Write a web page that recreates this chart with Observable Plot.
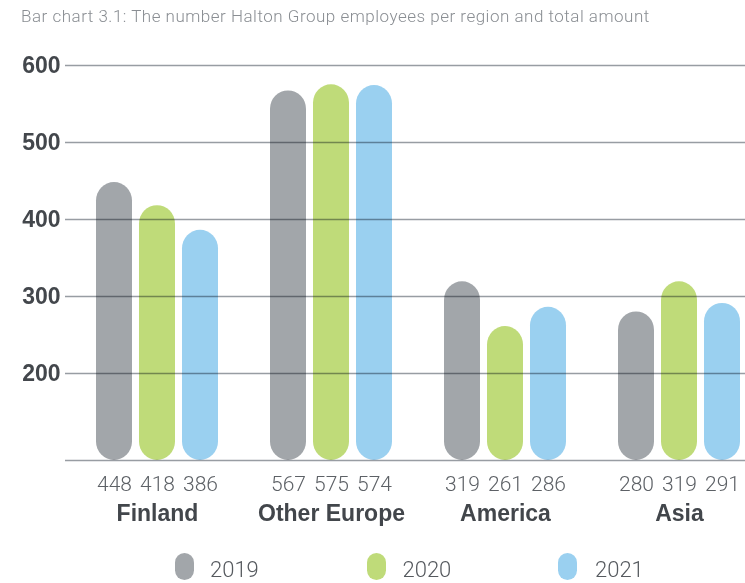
<!DOCTYPE html>
<html>
<head>
<meta charset="utf-8">
<script src="https://cdn.jsdelivr.net/npm/d3@7"></script>
<script src="https://cdn.jsdelivr.net/npm/@observablehq/plot@0.6"></script>
<style>
  html, body { margin: 0; padding: 0; background: #fff; overflow: hidden; }
  #wrap { position: relative; width: 745px; height: 583px; font-family: Roboto, sans-serif; }
  #title { position: absolute; left: 21px; top: 6px; font-size: 17px; letter-spacing: 0.5px; line-height: 20px; font-weight: 300; color: #8a8e93; white-space: nowrap; }
  #chart { position: absolute; left: 0; top: 36px; }
  #grid { position: absolute; left: 0; top: 36px; mix-blend-mode: multiply; pointer-events: none; }
  #legend { position: absolute; left: 0; top: 536px; width: 745px; height: 47px; }
  .pill { position: absolute; top: 17px; width: 19px; height: 27px; border-radius: 9.5px; }
  .ltxt { position: absolute; top: 20px; font-size: 22px; line-height: 27px; font-weight: 300; color: #55595e; }
</style>
</head>
<body>
<div id="wrap">
  <div id="title">Bar chart 3.1: The number Halton Group employees per region and total amount</div>
  <div id="chart"></div>
  <div id="grid"></div>
  <div id="legend"></div>
</div>
<script>
const regions = ["Finland", "Other Europe", "America", "Asia"];
const years = ["2019", "2020", "2021"];
const v2019 = [448, 567, 319, 280];
const v2020 = [418, 575, 261, 319];
const v2021 = [386, 574, 286, 291];
const yTicks = [200, 300, 400, 500, 600];
const colors = ["#a2a6aa", "#bfdb79", "#9ad0f0"];
const yBase = 87;

const series = [v2019, v2020, v2021];
const data = regions.flatMap((r, i) => years.map((y, j) => ({region: r, year: y, value: series[j][i]})));

const common = {
  width: 745,
  height: 500,
  marginLeft: 65,
  marginRight: 0,
  marginTop: 29,
  marginBottom: 76,
  style: {fontFamily: "Roboto, sans-serif", background: "transparent", overflow: "visible"},
  y: {domain: [yBase, 600], axis: null}
};

const chart = Plot.plot({
  ...common,
  fx: {domain: regions, range: [70, 766], padding: 0, axis: null},
  x: {domain: years, paddingInner: 0.159, paddingOuter: 0.557, axis: null},
  color: {domain: years, range: colors},
  marks: [
    Plot.barY(data, {fx: "region", x: "year", y1: yBase, y2: "value", fill: "year", rx: 18.5}),
    Plot.text(data, {fx: "region", x: "year", y: yBase, text: d => String(d.value), dy: 30, lineAnchor: "bottom",
      fontSize: 21, fontWeight: 300, fill: "#5d6166", fontFamily: "Roboto, sans-serif"}),
    Plot.text(regions, {fx: d => d, text: d => d, frameAnchor: "bottom", dy: 60, lineAnchor: "bottom",
      fontSize: 23, fontWeight: "bold", fill: "#42464b", fontFamily: "Liberation Sans, Arial, sans-serif"})
  ]
});
document.getElementById("chart").appendChild(chart);

const grid = Plot.plot({
  ...common,
  marks: [
    Plot.ruleY(yTicks.concat([yBase]), {stroke: "#989da3", strokeWidth: 1.5}),
    Plot.text(yTicks, {y: d => d, frameAnchor: "left", dx: -5, textAnchor: "end", text: d => String(d),
      fontSize: 23, fontWeight: "bold", fill: "#43474c", fontFamily: "Liberation Sans, Arial, sans-serif"})
  ]
});
document.getElementById("grid").appendChild(grid);

const legend = document.getElementById("legend");
years.forEach((y, i) => {
  const p = document.createElement("div");
  p.className = "pill";
  p.style.left = (175 + i * 191.5) + "px";
  p.style.background = colors[i];
  legend.appendChild(p);
  const t = document.createElement("div");
  t.className = "ltxt";
  t.style.left = (210 + i * 192.5) + "px";
  t.textContent = y;
  legend.appendChild(t);
});
</script>
</body>
</html>
